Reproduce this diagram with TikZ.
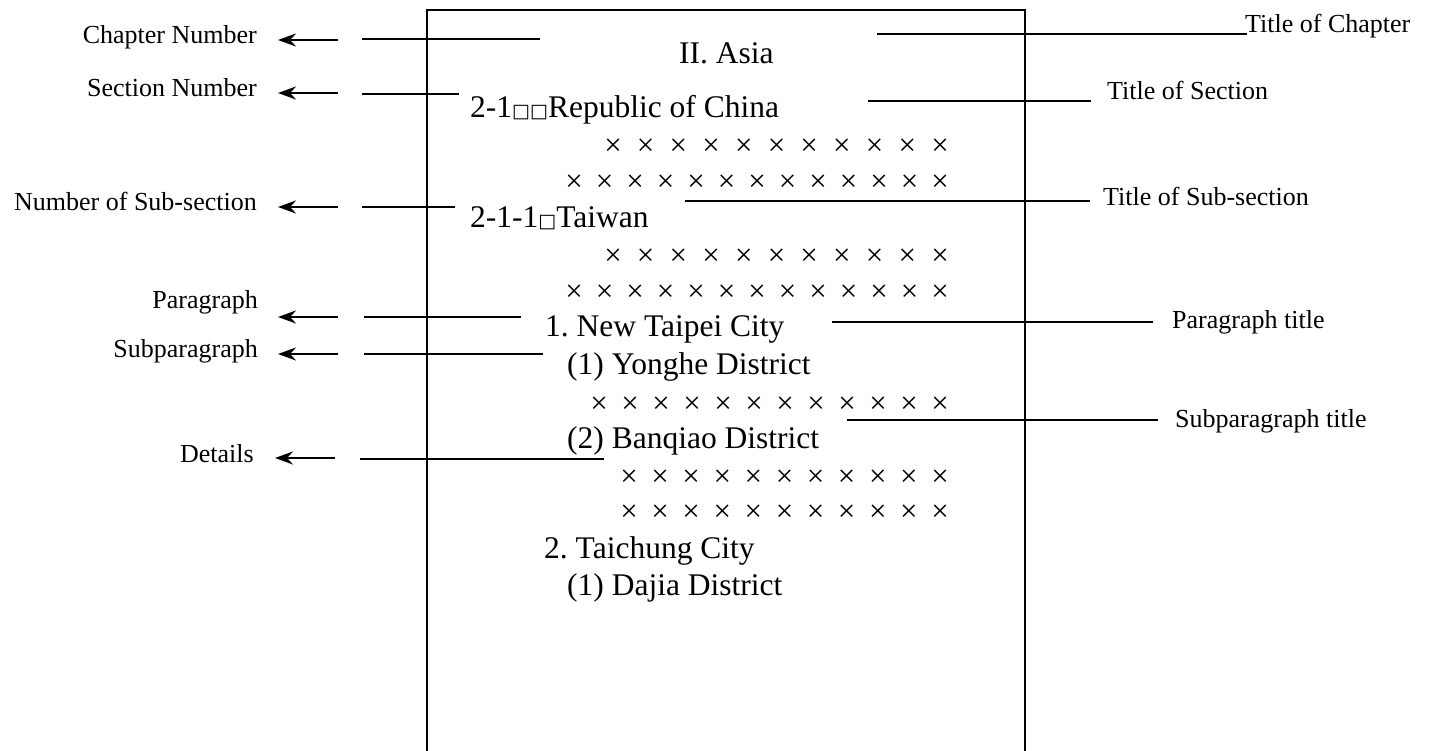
\documentclass[tikz,border=0pt]{standalone}
\usepackage{fontspec}
\setmainfont{Liberation Serif}
\newfontfamily\sqfont{DejaVu Sans}
\usetikzlibrary{arrows.meta}
\newcommand{\sq}{{\sqfont\fontsize{19}{19}\selectfont □}}
\frenchspacing
\begin{document}
\begin{tikzpicture}[x=1pt,y=-1pt,
  maintext/.style={anchor=base west,inner sep=0pt,font=\fontsize{31.5}{36}\selectfont},
  lefttext/.style={anchor=base east,inner sep=0pt,font=\fontsize{26}{30}\selectfont},
  righttext/.style={anchor=base west,inner sep=0pt,font=\fontsize{26}{30}\selectfont},
  xmark/.style={inner sep=0pt,font=\fontsize{31}{31}\selectfont},
  leader/.style={line width=1.1pt},
  pointer/.style={line width=2.6pt,-{Stealth[length=18pt,width=13pt,inset=6pt]}},
  pagebox/.style={line width=1.2pt}]
\useasboundingbox (0,0) rectangle (1431,751);
% page frame
\coordinate (bl) at (427,760);
\coordinate (tl) at (427,10);
\coordinate (tr) at (1025,10);
\coordinate (br) at (1025,760);
\draw[pagebox] (bl) -- (tl) -- (tr) -- (br);

% main texts
\node[maintext] (asia) at (679,64) {II. Asia};
\node[maintext] (roc) at (470,118) {2-1\sq\sq Republic of China};
\node[maintext] (tw) at (470,228) {2-1-1\sq Taiwan};
\node[maintext] (ntc) at (545,336) {1. New Taipei City};
\node[maintext] (yh) at (567,374) {(1) Yonghe District};
\node[maintext] (bq) at (567,448) {(2) Banqiao District};
\node[maintext] (tc) at (544,558) {2. Taichung City};
\node[maintext] (dj) at (567,595) {(1) Dajia District};

% cross rows
\foreach \i in {0,...,10} \node[xmark] (ra\i) at ({613+32.7*\i},147) {×};
\foreach \i in {0,...,12} \node[xmark] (rb\i) at ({574+30.5*\i},183) {×};
\foreach \i in {0,...,10} \node[xmark] (rc\i) at ({613+32.7*\i},257) {×};
\foreach \i in {0,...,12} \node[xmark] (rd\i) at ({574+30.5*\i},293) {×};
\foreach \i in {0,...,11} \node[xmark] (re\i) at ({599+31*\i},405) {×};
\foreach \i in {0,...,10} \node[xmark] (rf\i) at ({629+31.1*\i},478) {×};
\foreach \i in {0,...,10} \node[xmark] (rg\i) at ({629+31.1*\i},513) {×};

% left labels
\node[lefttext] (lch) at (257,44) {Chapter Number};
\node[lefttext] (lse) at (257,97) {Section Number};
\node[lefttext] (lss) at (257,211) {Number of Sub-section};
\node[lefttext] (lpa) at (258,308) {Paragraph};
\node[lefttext] (lsp) at (258,357) {Subparagraph};
\node[lefttext] (lde) at (254,462) {Details};

% left arrows
\coordinate (a1s) at (338,40); \coordinate (a1e) at (278,40);
\coordinate (a2s) at (338,93); \coordinate (a2e) at (278,93);
\coordinate (a3s) at (338,207); \coordinate (a3e) at (278,207);
\coordinate (a4s) at (338,317); \coordinate (a4e) at (278,317);
\coordinate (a5s) at (338,354); \coordinate (a5e) at (278,354);
\coordinate (a6s) at (335,458); \coordinate (a6e) at (275,458);
\foreach \k in {1,...,6} \draw[pointer] (a\k s) -- (a\k e);

% left leaders
\coordinate (l1s) at (362,39); \coordinate (l1e) at (540,39);
\coordinate (l2s) at (362,94); \coordinate (l2e) at (459,94);
\coordinate (l3s) at (362,207); \coordinate (l3e) at (455,207);
\coordinate (l4s) at (364,317); \coordinate (l4e) at (521,317);
\coordinate (l5s) at (364,354); \coordinate (l5e) at (543,354);
\coordinate (l6s) at (360,459); \coordinate (l6e) at (604,459);
\foreach \k in {1,...,6} \draw[leader] (l\k s) -- (l\k e);

% right labels
\node[righttext] (rch) at (1245,33) {Title of Chapter};
\node[righttext] (rse) at (1107,100) {Title of Section};
\node[righttext] (rss) at (1103,206) {Title of Sub-section};
\node[righttext] (rpa) at (1172,328) {Paragraph title};
\node[righttext] (rsp) at (1175,427) {Subparagraph title};

% right leaders
\coordinate (m1s) at (877,34); \coordinate (m1e) at (1247,34);
\coordinate (m2s) at (868,101); \coordinate (m2e) at (1091,101);
\coordinate (m3s) at (685,201); \coordinate (m3e) at (1090,201);
\coordinate (m4s) at (832,322); \coordinate (m4e) at (1153,322);
\coordinate (m5s) at (847,420); \coordinate (m5e) at (1158,420);
\foreach \k in {1,...,5} \draw[leader] (m\k s) -- (m\k e);
\end{tikzpicture}
\end{document}
